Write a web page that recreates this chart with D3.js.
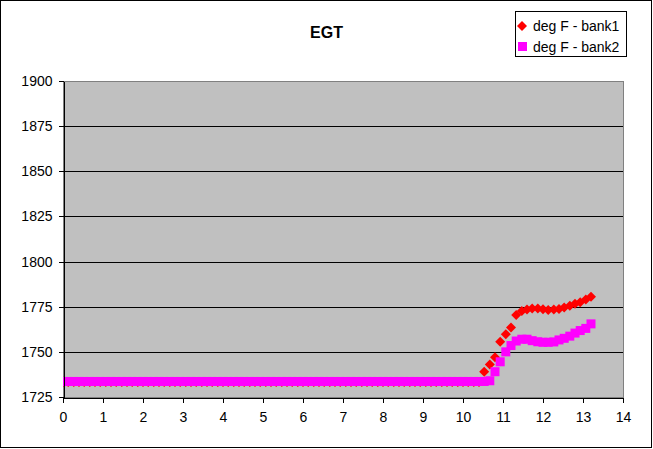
<!DOCTYPE html>
<html>
<head>
<meta charset="utf-8">
<script src="https://cdn.jsdelivr.net/npm/d3@7"></script>
<style>
html,body{margin:0;padding:0;background:#fff;}
text{font-family:"Liberation Sans",Arial,sans-serif;}
</style>
</head>
<body>
<svg id="chart" width="653" height="449"></svg>
<script>
const title = "EGT";
const seriesNames = ["deg F - bank1", "deg F - bank2"];
const xTicks = [0,1,2,3,4,5,6,7,8,9,10,11,12,13,14];
const yTicks = [1725,1750,1775,1800,1825,1850,1875,1900];

const time = [0,0.13,0.27,0.4,0.53,0.67,0.8,0.93,1.07,1.2,
1.33,1.47,1.6,1.73,1.87,2,2.13,2.27,2.4,2.53,
2.67,2.8,2.93,3.07,3.2,3.33,3.47,3.6,3.73,3.87,
4,4.13,4.27,4.4,4.53,4.67,4.8,4.93,5.07,5.2,
5.33,5.47,5.6,5.73,5.87,6,6.13,6.27,6.4,6.53,
6.67,6.8,6.93,7.07,7.2,7.33,7.47,7.6,7.73,7.87,
8,8.13,8.27,8.4,8.53,8.67,8.8,8.93,9.07,9.2,
9.33,9.47,9.6,9.73,9.87,10,10.13,10.27,10.4,10.53,
10.67,10.8,10.93,11.07,11.2,11.33,11.47,11.6,11.73,11.87,
12,12.13,12.27,12.4,12.53,12.67,12.8,12.93,13.07,13.2];

const bank1 = [1733.3,1733.3,1733.3,1733.3,1733.3,1733.3,1733.3,1733.3,1733.3,1733.3,
1733.3,1733.3,1733.3,1733.3,1733.3,1733.3,1733.3,1733.3,1733.3,1733.3,
1733.3,1733.3,1733.3,1733.3,1733.3,1733.3,1733.3,1733.3,1733.3,1733.3,
1733.3,1733.3,1733.3,1733.3,1733.3,1733.3,1733.3,1733.3,1733.3,1733.3,
1733.3,1733.3,1733.3,1733.3,1733.3,1733.3,1733.3,1733.3,1733.3,1733.3,
1733.3,1733.3,1733.3,1733.3,1733.3,1733.3,1733.3,1733.3,1733.3,1733.3,
1733.3,1733.3,1733.3,1733.3,1733.3,1733.3,1733.3,1733.3,1733.3,1733.3,
1733.3,1733.3,1733.3,1733.3,1733.3,1733.3,1733.3,1733.3,1733.3,1739,
1743,1747,1755.6,1759.8,1763.5,1770.4,1772.6,1773.5,1774,1774,
1773.6,1773.2,1773.4,1773.8,1774.5,1775.5,1776.6,1777.5,1779,1780.5];

const bank2 = [1733.6,1733.6,1733.6,1733.6,1733.6,1733.6,1733.6,1733.6,1733.6,1733.6,
1733.6,1733.6,1733.6,1733.6,1733.6,1733.6,1733.6,1733.6,1733.6,1733.6,
1733.6,1733.6,1733.6,1733.6,1733.6,1733.6,1733.6,1733.6,1733.6,1733.6,
1733.6,1733.6,1733.6,1733.6,1733.6,1733.6,1733.6,1733.6,1733.6,1733.6,
1733.6,1733.6,1733.6,1733.6,1733.6,1733.6,1733.6,1733.6,1733.6,1733.6,
1733.6,1733.6,1733.6,1733.6,1733.6,1733.6,1733.6,1733.6,1733.6,1733.6,
1733.6,1733.6,1733.6,1733.6,1733.6,1733.6,1733.6,1733.6,1733.6,1733.6,
1733.6,1733.6,1733.6,1733.6,1733.6,1733.6,1733.6,1733.6,1733.6,1733.6,
1734,1739,1744.5,1750,1753.5,1756,1757,1757,1756.2,1755.6,
1755.3,1755.3,1755.5,1756.6,1757.5,1758.7,1760.4,1761.8,1763,1765.5];

const colors = ["#FF0000", "#FF00FF"];

const svg = d3.select("#chart");
svg.append("rect").attr("x",0).attr("y",0).attr("width",653).attr("height",449).attr("fill","#fff");
svg.append("rect").attr("x",0.5).attr("y",0.5).attr("width",651).attr("height",447)
  .attr("fill","none").attr("stroke","#000").attr("stroke-width",1);

const x = d3.scaleLinear().domain([0,14]).range([63,623]);
const y = d3.scaleLinear().domain([1725,1900]).range([397,81]);

// plot area
svg.append("rect").attr("x",x(0)).attr("y",y(1900)).attr("width",x(14)-x(0)).attr("height",y(1725)-y(1900))
  .attr("fill","#C0C0C0").attr("stroke","#808080").attr("stroke-width",1)
  .attr("shape-rendering","crispEdges");

// gridlines
svg.append("g").selectAll("line").data(yTicks.filter(v=>v>1725 && v<1900)).join("line")
  .attr("x1",x(0)).attr("x2",x(14)).attr("y1",d=>Math.round(y(d))+0.5).attr("y2",d=>Math.round(y(d))+0.5)
  .attr("stroke","#000").attr("stroke-width",1).attr("shape-rendering","crispEdges");

svg.append("clipPath").attr("id","clip").append("rect")
  .attr("x",x(0)).attr("y",y(1900)).attr("width",x(14)-x(0)).attr("height",y(1725)-y(1900));

const plot = svg.append("g").attr("clip-path","url(#clip)");
const data1 = time.map((t,i)=>({t, v:bank1[i]}));
const data2 = time.map((t,i)=>({t, v:bank2[i]}));

const diamond = (cx,cy)=>`M${cx},${cy-5}L${cx+5},${cy}L${cx},${cy+5}L${cx-5},${cy}Z`;
plot.append("g").selectAll("path").data(data1).join("path")
  .attr("d",d=>diamond(x(d.t),y(d.v))).attr("fill",colors[0]);
plot.append("g").selectAll("rect").data(data2).join("rect")
  .attr("x",d=>x(d.t)-4.5).attr("y",d=>y(d.v)-4.5).attr("width",9).attr("height",9)
  .attr("fill",colors[1]);

// axes
const yAxis = d3.axisLeft(y).tickValues(yTicks).tickSize(5).tickSizeOuter(0).tickPadding(6).tickFormat(d3.format("d"));
const gy = svg.append("g").attr("transform",`translate(${x(0)+0.5},0)`).call(yAxis);
const xAxis = d3.axisBottom(x).tickValues(xTicks).tickSize(5).tickSizeOuter(0).tickPadding(10).tickFormat(d3.format("d"));
const gx = svg.append("g").attr("transform",`translate(0,${y(1725)+0.5})`).call(xAxis);
[gx,gy].forEach(g=>{
  g.selectAll("path,line").attr("stroke","#000").attr("shape-rendering","crispEdges");
  g.selectAll("text").attr("font-size","14px").attr("fill","#000").style("font-family","'Liberation Sans', Arial, sans-serif");
});

// title
svg.append("text").attr("x",326.5).attr("y",32).attr("text-anchor","middle").attr("dominant-baseline","central")
  .attr("font-size","16px").attr("font-weight","bold").text(title);

// legend
const lg = svg.append("g");
lg.append("rect").attr("x",515.5).attr("y",11.5).attr("width",111).attr("height",45)
  .attr("fill","#fff").attr("stroke","#000");
lg.append("path").attr("d",diamond(522,26)).attr("fill",colors[0]);
lg.append("rect").attr("x",518).attr("y",42).attr("width",9).attr("height",9).attr("fill",colors[1]);
lg.selectAll("text.l").data(seriesNames).join("text").attr("class","l")
  .attr("x",533).attr("y",(d,i)=>26+i*20.5).attr("dominant-baseline","central")
  .attr("font-size","14px").text(d=>d);
</script>
</body>
</html>
